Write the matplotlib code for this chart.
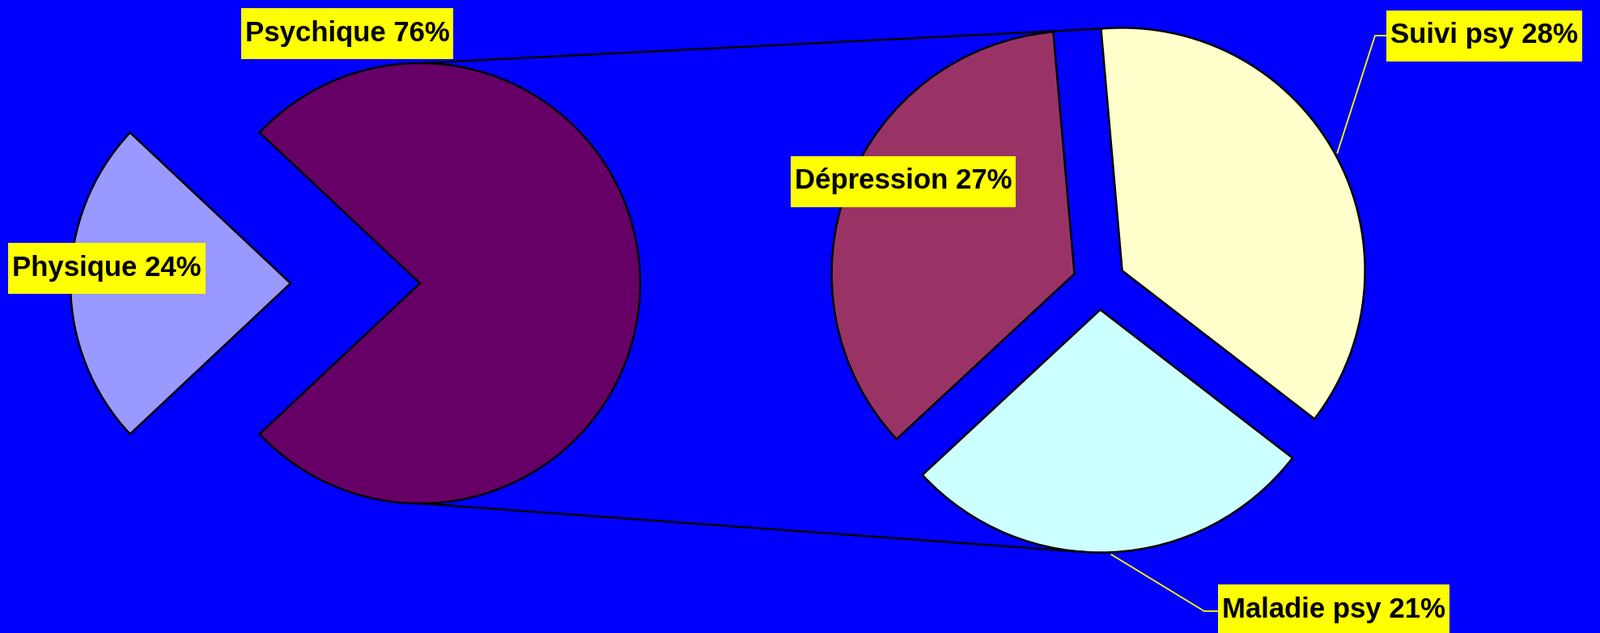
import numpy as np
import matplotlib
matplotlib.use('Agg')
import matplotlib.pyplot as plt
from matplotlib.patches import Rectangle

# ---------------- data ----------------
main_labels = ['Physique', 'Psychique']
main_values = [24, 76]

sub_labels = ['Dépression', 'Maladie psy', 'Suivi psy']
sub_values = [27, 21, 28]

main_colors = ['#9999FF', '#660066']
sub_colors  = ['#993366', '#CCFFFF', '#FFFFCC']

# ---------------- layout (pixels, y up) ----------------
W, H = 1977, 782
BG   = '#0000FF'

main_center  = (439, 432)
main_radius  = 272
main_explode = 80
main_start   = 180 - 360 * main_values[0] / sum(main_values) / 2

sub_center  = (1358, 432)
sub_radius  = 300
sub_explode = 32.6
sub_start   = 95

label_pos = {
    'Psychique'  : (429, 741),
    'Physique'   : (132, 451),
    'Dépression' : (1116, 558),
    'Suivi psy'  : (1834, 738),
    'Maladie psy': (1648, 29),
}
leader_elbow = {
    'Suivi psy'  : (1699, 738),
    'Maladie psy': (1488, 27),
}
FONT = dict(family=['Liberation Sans', 'DejaVu Sans'], weight='bold', size=25)
PADX, PADY = 5, 15
#-------------------------------------
def _wedge_geom(values, start, explode, center):
    '''
    Returns per wedge (theta1, theta2, vertex) like matplotlib pie does
    '''
    tot = sum(values)
    out = []
    th  = start
    for val in values:
        th2 = th + 360 * val / tot
        mid = np.radians((th + th2) / 2)
        vx  = center[0] + explode * np.cos(mid)
        vy  = center[1] + explode * np.sin(mid)
        out.append((th, th2, (vx, vy)))
        th = th2
    return out
#-------------------------------------
def _point(vertex, radius, ang, fac=1.0):
    a = np.radians(ang)
    return vertex[0] + fac * radius * np.cos(a), vertex[1] + fac * radius * np.sin(a)
#-------------------------------------
def _label(ax, renderer, name, text):
    x, y = label_pos[name]
    txt = ax.text(x, y, text, ha='center', va='center', color='black', zorder=6, **FONT)
    bb  = txt.get_window_extent(renderer).transformed(ax.transData.inverted())
    rect = Rectangle((bb.x0 - PADX, bb.y0 - PADY), bb.width + 2 * PADX, bb.height + 2 * PADY,
                     facecolor='#FFFF00', edgecolor='none', zorder=5)
    ax.add_patch(rect)
    return bb
#-------------------------------------
def main():
    fig = plt.figure(figsize=(W / 100, H / 100), dpi=100, facecolor=BG)
    ax  = fig.add_axes([0, 0, 1, 1])
    ax.set_facecolor(BG)

    wp = dict(edgecolor='black', linewidth=1.8)
    ax.pie(main_values, colors=main_colors, startangle=main_start, counterclock=True,
           explode=[main_explode] * 2, center=main_center, radius=main_radius,
           wedgeprops=wp, frame=True)
    ax.pie(sub_values, colors=sub_colors, startangle=sub_start, counterclock=True,
           explode=[sub_explode] * 3, center=sub_center, radius=sub_radius,
           wedgeprops=wp, frame=True)

    ax.set_xlim(0, W)
    ax.set_ylim(0, H)
    ax.set_aspect('equal')
    ax.axis('off')

    g_main = _wedge_geom(main_values, main_start, main_explode, main_center)
    g_sub  = _wedge_geom(sub_values, sub_start, sub_explode, sub_center)

    # series lines between the two pies
    psy_vertex = g_main[1][2]
    top0 = _point(psy_vertex, main_radius, 90)
    bot0 = _point(psy_vertex, main_radius, -90)
    top1 = _point(g_sub[2][2], sub_radius, g_sub[2][1])
    bot1 = _point(g_sub[1][2], sub_radius, -94)
    ax.plot([top0[0], top1[0]], [top0[1], top1[1]], color='black', lw=1.8, zorder=4)
    ax.plot([bot0[0], bot1[0]], [bot0[1], bot1[1]], color='black', lw=1.8, zorder=1)

    fig.canvas.draw()
    renderer = fig.canvas.get_renderer()

    for name, val in zip(main_labels, main_values):
        _label(ax, renderer, name, f'{name} {val}%')

    for i, (name, val) in enumerate(zip(sub_labels, sub_values)):
        bb = _label(ax, renderer, name, f'{name} {val}%')
        if name in leader_elbow:
            th1, th2, vtx = g_sub[i]
            start = _point(vtx, sub_radius, (th1 + th2) / 2, 1.01)
            ex, ey = leader_elbow[name]
            ax.plot([start[0], ex, bb.x0 - PADX], [start[1], ey, ey],
                    color='#FFFF00', lw=1.3, zorder=4)

    fig.savefig('out.png', dpi=100, facecolor=BG)
#-------------------------------------
if __name__ == '__main__':
    main()
